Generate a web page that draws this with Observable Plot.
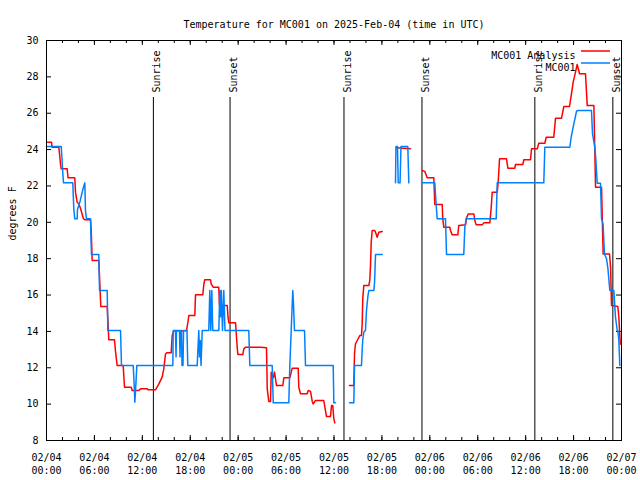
<!DOCTYPE html>
<html><head><meta charset="utf-8">
<script src="https://cdn.jsdelivr.net/npm/d3@7"></script>
<script src="https://cdn.jsdelivr.net/npm/@observablehq/plot@0.6"></script>
<style>body{margin:0;background:#fff}</style>
</head><body><div id="chart"></div>
<script>
// ---- data (hours after 2025-02-04 00:00 UTC, temperature °F; null = gap) ----
const startTime = "2025-02-04T00:00Z";
const endTime = "2025-02-07T00:00Z";
const titleText = "Temperature for MC001 on 2025-Feb-04 (time in UTC)";
const yLabel = "degrees F";
const seriesNames = ["MC001 Analysis", "MC001"];
const seriesColors = ["#ff0000", "#0080ff"];

const analysisHours = [0,0.63,0.69,1.54,1.63,1.75,1.84,2.59,2.69,3.54,3.63,3.84,4.04,4.26,4.63,4.80,5.51,5.60,5.72,6.55,6.80,7.60,7.70,7.80,8.51,8.64,8.85,9.60,9.77,10.61,10.73,11.56,11.77,12.61,12.71,13.65,14.06,14.49,14.69,14.90,15.03,15.61,15.74,15.94,17.53,17.74,17.82,18.57,18.66,19.57,19.70,19.82,20.54,20.62,20.87,21.57,21.66,22.63,22.73,22.83,23.67,23.88,23.96,24.58,24.71,24.92,26.80,27.55,27.64,27.84,28.05,28.14,28.39,28.55,28.80,29.59,29.72,30.47,30.77,31.52,31.59,31.81,32.64,32.77,33.06,33.27,33.40,33.68,34.72,34.94,35.06,35.56,35.69,35.85,35.98,36.10,
  36.5,
  37.94,38.48,38.57,38.69,38.91,39.23,39.44,39.53,39.60,39.73,40.36,40.48,40.57,40.66,40.78,41.11,41.24,41.41,41.61,42.04,
  42.5,
  43.79,45.58,
  46.0,
  47.05,47.37,47.67,48.50,48.62,49.55,49.62,49.75,50.50,50.59,50.80,51.50,51.63,52.47,52.59,52.80,53.51,53.63,53.81,54.56,54.76,55.51,55.69,55.81,56.44,56.56,56.73,57.60,57.77,58.64,58.73,59.64,59.77,60.61,60.73,61.45,61.65,62.40,62.57,63.52,63.74,64.49,64.78,65.49,65.70,65.95,66.24,66.45,66.65,66.74,67.49,67.71,68.54,68.75,69.50,69.58,69.70,70.50,70.63,70.75,71.54,71.67,71.85];
const analysisTemps = [24.4,24.4,24.13,24.13,23.77,23.22,22.94,22.94,22.45,22.45,21.66,21.1,21.02,20.76,20.2,20.14,20.14,19.55,17.9,17.9,15.37,15.37,14.5,13.54,13.54,12.9,12.12,12.12,10.93,10.93,10.75,10.75,10.84,10.84,10.79,10.79,11.1,11.5,11.95,12.75,12.82,12.82,13.77,14.03,14.03,14.6,14.87,14.87,16.01,16.01,16.58,16.84,16.84,16.62,16.43,16.43,15.42,15.42,14.78,14.47,14.47,13.13,12.73,12.73,13.04,13.13,13.13,13.1,10.84,10.14,10.14,11.76,11.45,11.76,11.02,11.02,11.45,11.45,11.98,11.98,10.93,10.57,10.57,10.75,10.7,10.16,10.01,10.2,10.2,9.61,9.32,9.32,9.92,9.92,9.19,8.97,
  null,
  11.02,11.02,12.77,13.32,13.5,13.77,13.77,14.42,15.79,16.52,16.52,16.8,17.62,18.9,19.55,19.55,19.4,19.18,19.45,19.5,
  null,
  24.1,24.05,
  null,
  22.85,22.8,22.45,22.45,20.98,20.98,20.19,19.73,19.73,19.55,19.31,19.31,19.83,19.86,20.24,20.46,20.46,20.1,19.86,19.86,19.97,19.97,20.83,21.66,21.66,22.21,23.49,23.49,22.98,22.98,23.18,23.18,23.44,23.44,24.04,24.04,24.35,24.35,24.68,24.68,25.73,25.73,26.37,26.37,26.97,27.71,28.26,28.68,28.35,28.17,28.17,26.42,26.42,21.93,21.93,20.46,18.26,18.26,17.53,15.42,15.37,14.78,13.3];

const obsHours = [0,1.84,1.94,2.04,2.13,3.29,3.42,3.54,3.84,3.88,4.17,4.47,4.67,4.80,4.88,5.01,5.51,5.63,6.55,6.64,7.60,7.68,9.27,9.39,10.86,11.02,11.06,11.14,11.31,15.82,15.87,16.15,16.22,16.28,16.65,16.72,16.78,16.90,16.97,17.09,17.16,17.59,17.69,18.87,19.07,19.16,19.25,19.35,19.50,20.32,20.45,20.57,20.70,20.82,21.58,21.70,21.79,21.89,22.04,22.20,22.35,25.33,25.46,28.26,28.39,30.34,30.47,30.64,30.74,30.84,30.93,31.05,32.31,32.43,35.90,35.98,36.19,
  36.5,
  37.94,38.48,38.57,39.44,39.53,39.60,39.73,39.94,40.07,40.23,40.36,40.99,41.08,41.20,42.04,
  42.5,
  43.70,43.76,43.95,44.04,44.27,44.39,45.24,45.37,
  46.0,
  47.05,48.62,48.79,48.92,49.96,50.09,52.25,52.38,52.55,56.31,56.44,62.27,62.40,65.53,65.70,66.03,66.37,66.53,68.24,68.37,68.66,68.78,68.96,69.37,69.50,69.69,69.87,70.12,70.29,70.54,71.04,71.25,71.47,71.54,71.67,71.79];
const obsTemps = [24.17,24.17,23.5,22.7,22.17,22.17,20.74,20.19,20.19,20.7,21.1,21.66,22.0,22.17,20.65,20.19,20.19,18.23,18.23,16.25,16.25,14.05,14.05,12.12,12.12,10.66,10.1,10.66,12.12,12.12,14.05,14.05,12.6,14.05,14.05,12.6,14.05,14.05,12.12,12.12,14.05,14.05,12.12,12.12,14.05,12.6,13.5,12.12,14.05,14.05,16.25,14.05,16.25,14.05,14.05,16.25,14.8,16.25,14.05,16.25,14.05,14.05,12.12,12.12,10.07,10.07,12.12,14.05,15.2,16.25,15.5,14.05,14.05,12.12,12.12,10.07,10.07,
  null,
  10.07,10.07,12.12,12.12,13.0,13.5,13.96,14.05,15.15,15.88,16.25,16.25,16.71,18.23,18.23,
  null,
  22.17,24.17,24.17,22.17,22.17,24.17,24.17,22.17,
  null,
  22.17,22.17,20.98,20.19,20.19,18.23,18.23,19.73,20.19,20.19,22.17,22.17,24.13,24.13,24.68,25.42,26.11,26.15,26.15,24.87,24.13,23.5,22.15,22.15,20.19,19.9,18.26,18.0,17.5,16.25,16.25,14.78,14.05,14.05,13.5,12.12];

const sunLabels = ["Sunrise","Sunset","Sunrise","Sunset","Sunrise","Sunset"];
const sunTimes = ["2025-02-04T13:23Z","2025-02-04T22:59Z","2025-02-05T13:15Z","2025-02-05T23:01Z","2025-02-06T13:09Z","2025-02-06T22:55Z"];
const yTicks = [8,10,12,14,16,18,20,22,24,26,28,30];

// ---- build tables ----
const t0 = new Date(startTime).getTime();
const toDate = h => new Date(t0 + h * 3600e3);
const analysis = analysisHours.map((h, i) => ({time: toDate(h), temp: analysisTemps[i]}));
const obs = obsHours.map((h, i) => ({time: toDate(h), temp: obsTemps[i]}));
const sun = sunTimes.map((t, i) => ({time: new Date(t), label: sunLabels[i]}));
const x0 = new Date(startTime), x1 = new Date(endTime);
const majorTicks = d3.utcHour.every(6).range(x0, new Date(x1.getTime() + 1));
const minorTicks = d3.utcHour.every(2).range(x0, new Date(x1.getTime() + 1));

const W = 640, H = 480, mt = 40, mr = 19, mb = 40, ml = 46;
const fh = H - mt - mb, fw = W - ml - mr;
const fmt = d => d3.utcFormat("%m/%d")(d) + "\n" + d3.utcFormat("%H:%M")(d);

const chart = Plot.plot({
  width: W, height: H,
  marginTop: mt, marginRight: mr, marginBottom: mb, marginLeft: ml,
  style: {fontFamily: "'DejaVu Sans Mono', monospace", fontSize: "10px", background: "#fff", color: "#000"},
  x: {type: "utc", domain: [x0, x1]},
  y: {domain: [8, 30]},
  marks: [
    // inward tick marks (all four sides)
    Plot.ruleX(majorTicks, {x: d => d, insetTop: fh - 5, stroke: "#000"}),
    Plot.ruleX(majorTicks, {x: d => d, insetBottom: fh - 5, stroke: "#000"}),
    Plot.ruleX(minorTicks, {x: d => d, insetTop: fh - 3, stroke: "#000"}),
    Plot.ruleX(minorTicks, {x: d => d, insetBottom: fh - 3, stroke: "#000"}),
    Plot.ruleY(yTicks, {y: d => d, insetRight: fw - 5, stroke: "#000"}),
    Plot.ruleY(yTicks, {y: d => d, insetLeft: fw - 5, stroke: "#000"}),
    // tick labels
    Plot.axisX({ticks: majorTicks, tickSize: 0, tickPadding: 11, tickFormat: fmt, lineHeight: 1.3, label: null}),
    Plot.axisY({ticks: yTicks, tickSize: 0, tickPadding: 8, label: null}),
    // sunrise / sunset
    Plot.ruleX(sun, {x: "time", insetTop: 57, stroke: "#000"}),
    Plot.text(sun, {x: "time", text: "label", frameAnchor: "top", dy: 52, rotate: -90, textAnchor: "start", fill: "#000"}),
    // series
    Plot.line(analysis, {x: "time", y: "temp", stroke: seriesColors[0], strokeWidth: 1.5}),
    Plot.line(obs, {x: "time", y: "temp", stroke: seriesColors[1], strokeWidth: 1.5}),
    Plot.frame({stroke: "#000"}),
    // title and y label
    Plot.text([titleText], {frameAnchor: "top", dy: -20, fill: "#000"}),
    Plot.text([yLabel], {frameAnchor: "left", dx: -34, rotate: -90, fill: "#000"}),
    // legend labels
    Plot.text([seriesNames[0]], {frameAnchor: "top-right", dx: -46, dy: 11, textAnchor: "end", fill: "#000"}),
    Plot.text([seriesNames[1]], {frameAnchor: "top-right", dx: -46, dy: 23, textAnchor: "end", fill: "#000"})
  ]
});
document.getElementById("chart").appendChild(chart);

// legend line samples
const svg = d3.select(chart);
[[51, seriesColors[0]], [63, seriesColors[1]]].forEach(([y, c]) => {
  svg.append("line").attr("x1", 581).attr("x2", 610).attr("y1", y).attr("y2", y)
    .attr("stroke", c).attr("stroke-width", 1.5);
});
</script>
</body></html>
